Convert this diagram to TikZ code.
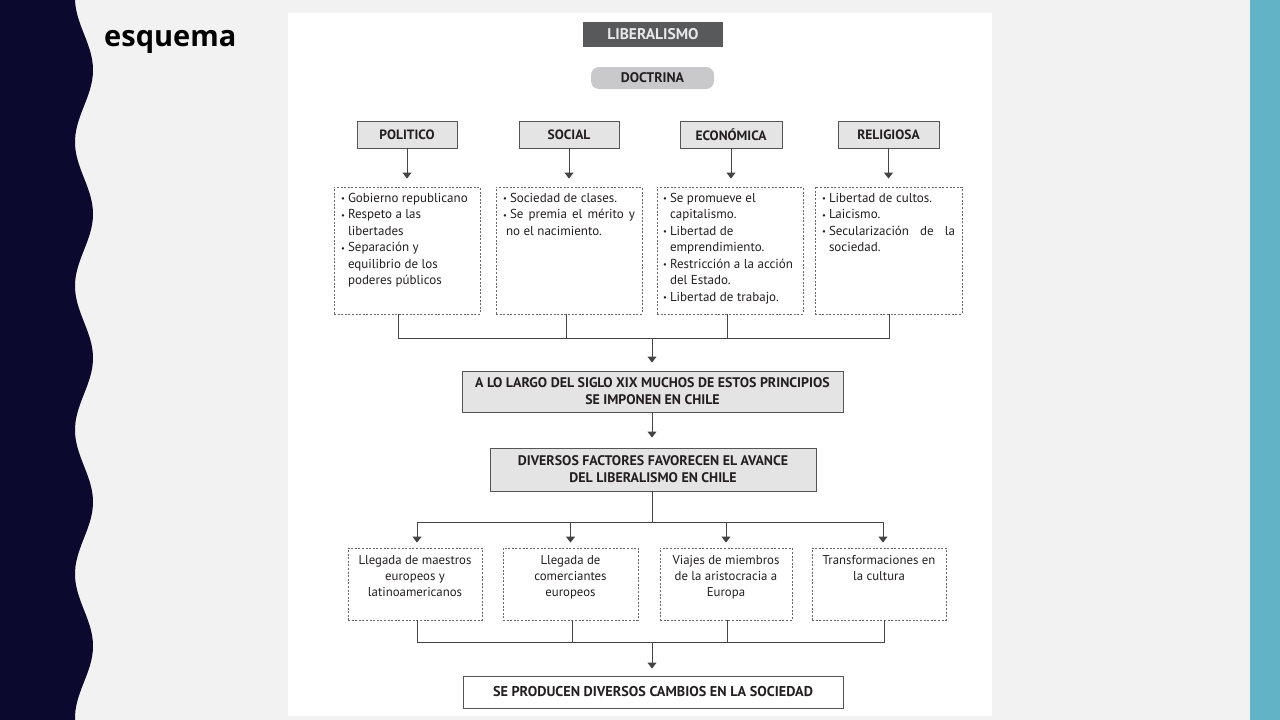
\documentclass[tikz,border=0pt]{standalone}
\usepackage{fontspec}
\setmainfont{PT Sans}
\newfontfamily\titlefont{Open Sans}
\usetikzlibrary{arrows.meta,calc}
\definecolor{navy}{HTML}{0B0A2E}
\definecolor{pagebg}{HTML}{F2F2F2}
\definecolor{teal}{HTML}{63B3C7}
\definecolor{darkbox}{HTML}{58595B}
\definecolor{darktext}{HTML}{E8E8E8}
\definecolor{pillfill}{HTML}{C9C9CB}
\definecolor{boxfill}{HTML}{E4E4E4}
\definecolor{boxline}{HTML}{555555}
\definecolor{dotline}{HTML}{6A6A6A}
\definecolor{linec}{HTML}{444444}
\definecolor{ink}{HTML}{231F20}
\newcommand\bul{\makebox[7pt][l]{\raisebox{0.6pt}{\fontsize{8.5}{8.5}\selectfont\textbullet}}}
\newcommand\cnt{\hspace*{7pt}}
\tikzset{
  conn/.style={draw=linec, line width=0.9pt},
  arr/.style={conn, -{Triangle[width=9pt,length=6pt]}},
  catbox/.style={draw=boxline, fill=boxfill, line width=0.9pt, minimum width=100pt, minimum height=27pt, inner sep=0pt, text=ink, font=\fontsize{13.5}{15}\selectfont\bfseries},
  dotbox/.style={draw=dotline, line width=0.9pt, dash pattern=on 2pt off 1.6pt, inner sep=0pt, minimum height=127pt, minimum width=146pt, text=ink, font=\fontsize{13}{16.5}\selectfont},
  factbox/.style={draw=dotline, line width=0.9pt, dash pattern=on 2pt off 1.6pt, inner sep=0pt, minimum height=72pt, text=ink, font=\fontsize{12.8}{16}\selectfont},
  bigbox/.style={draw=boxline, fill=boxfill, line width=0.9pt, inner sep=0pt, align=center, text=ink, font=\fontsize{13.9}{17}\selectfont\bfseries},
}
\begin{document}
\begin{tikzpicture}[x=1pt,y=-1pt]
\useasboundingbox (0,0) rectangle (1280,720);
% page background
\fill[pagebg] (0,0) rectangle (1280,720);
\fill[teal] (1250,0) rectangle (1280,720);
\fill[navy] (0,-5) -- plot[domain=-5:725, samples=200] ({84+9*cos(2.5*(\x-70))}, \x) -- (0,725) -- cycle;
\node[anchor=base west, inner sep=0pt, font=\titlefont\fontsize{29}{32}\selectfont\bfseries] (title) at (104,46) {esquema};
% image area
\fill[white] (288,13) rectangle (992,716);

% top
\node[fill=darkbox, minimum width=140pt, minimum height=25pt, inner sep=0pt, text=darktext, font=\fontsize{15.5}{17}\selectfont\bfseries] (lib) at (653,34.5) {LIBERALISMO};
\node[fill=pillfill, rounded corners=8pt, minimum width=123pt, minimum height=22pt, inner sep=0pt, text=ink, font=\fontsize{13.9}{15}\selectfont\bfseries] (doc) at (652.5,78) {DOCTRINA};

% categories
\node[catbox] (pol) at (407,134.5) {POLITICO};
\node[catbox] (soc) at (569,134.5) {SOCIAL};
\node[catbox, minimum width=102pt] (eco) at (731,134.5) {ECONÓMICA};
\node[catbox, minimum width=101pt] (rel) at (888.5,134.5) {RELIGIOSA};

% doctrine boxes
\node[dotbox] (d1) at (407,250.5) {\parbox[t][115pt][t]{132pt}{\raggedright
\bul Gobierno republicano\\
\bul Respeto a las\\
\cnt libertades\\
\bul Separación y\\
\cnt equilibrio de los\\
\cnt poderes públicos}};
\node[dotbox] (d2) at (569,250.5) {\parbox[t][115pt][t]{132pt}{\raggedright
\bul Sociedad de clases.\\
\bul\hbox to 125pt{Se\hfill premia\hfill el\hfill mérito\hfill y}\\
\hspace*{3pt}no el nacimiento.}};
\node[dotbox] (d3) at (730,250.5) {\parbox[t][115pt][t]{134pt}{\raggedright
\bul Se promueve el\\
\cnt capitalismo.\\
\bul Libertad de\\
\cnt emprendimiento.\\
\bul Restricción a la acción\\
\cnt del Estado.\\
\bul Libertad de trabajo.}};
\node[dotbox, minimum width=147pt] (d4) at (888.5,250.5) {\parbox[t][115pt][t]{133pt}{\raggedright
\bul Libertad de cultos.\\
\bul Laicismo.\\
\bul\hbox to 126pt{Secularización\hfill de\hfill la}\\
\cnt sociedad.}};

\foreach \c/\d in {pol/d1,soc/d2,eco/d3,rel/d4}
  \draw[arr, shorten >=8pt] (\c.south) -- (\c.south |- \d.north);

% junction 1
\coordinate (jA) at (652,338);
\node[bigbox, minimum width=381pt, minimum height=41pt] (A) at (652.5,391.5) {A LO LARGO DEL SIGLO XIX MUCHOS DE ESTOS PRINCIPIOS\\SE IMPONEN EN CHILE};
\draw[conn] ([xshift=-9pt]d1.south) |- (jA);
\draw[conn] ([xshift=0.5pt]d4.south) |- (jA);
\draw[conn] ([xshift=-3pt]d2.south) -- ([xshift=-3pt]d2.south |- jA);
\draw[conn] ([xshift=-3pt]d3.south) -- ([xshift=-3pt]d3.south |- jA);
\draw[arr, shorten >=8pt] (jA) -- (jA |- A.north);

\node[bigbox, minimum width=326pt, minimum height=43pt] (B) at (653,469.5) {DIVERSOS FACTORES FAVORECEN EL AVANCE\\DEL LIBERALISMO EN CHILE};
\draw[arr, shorten >=10pt] (A.south -| jA) -- (B.north -| jA);

% factors
\node[factbox, minimum width=134pt] (c1) at (415,584) {\parbox[t][57pt][t]{132pt}{\centering Llegada de maestros\\europeos y\\latinoamericanos}};
\node[factbox, minimum width=135pt] (c2) at (570.5,584) {\parbox[t][57pt][t]{132pt}{\centering Llegada de\\comerciantes\\europeos}};
\node[factbox, minimum width=132pt] (c3) at (726,584) {\parbox[t][57pt][t]{130pt}{\centering Viajes de miembros\\de la aristocracia a\\Europa}};
\node[factbox, minimum width=134pt] (c4) at (879,584) {\parbox[t][57pt][t]{132pt}{\centering Transformaciones en\\la cultura}};

\coordinate (jB) at (652,522);
\coordinate (jBl) at (417,522);
\coordinate (jBr) at (883,522);
\draw[conn] (B.south -| jB) -- (jB);
\draw[conn] (jBl) -- (jBr);
\draw[arr, shorten >=5pt] (jBl) -- (jBl |- c1.north);
\draw[arr, shorten >=5pt] (jBr) -- (jBr |- c4.north);
\draw[arr, shorten >=5pt] (c2.north |- jB) -- (c2.north);
\draw[arr, shorten >=5pt] (c3.north |- jB) -- (c3.north);

% final
\node[draw=boxline, fill=white, line width=0.9pt, minimum width=380pt, minimum height=32pt, inner sep=0pt, text=ink, font=\fontsize{14.2}{16}\selectfont\bfseries] (F) at (653,692) {SE PRODUCEN DIVERSOS CAMBIOS EN LA SOCIEDAD};

\coordinate (jC) at (652,642);
\draw[conn] ([xshift=2pt]c1.south) |- (jC);
\draw[conn] ([xshift=5pt]c4.south) |- (jC);
\draw[conn] ([xshift=1.5pt]c2.south) -- ([xshift=1.5pt]c2.south |- jC);
\draw[conn] ([xshift=1pt]c3.south) -- ([xshift=1pt]c3.south |- jC);
\draw[arr, shorten >=7pt] (jC) -- (jC |- F.north);
\end{tikzpicture}
\end{document}
